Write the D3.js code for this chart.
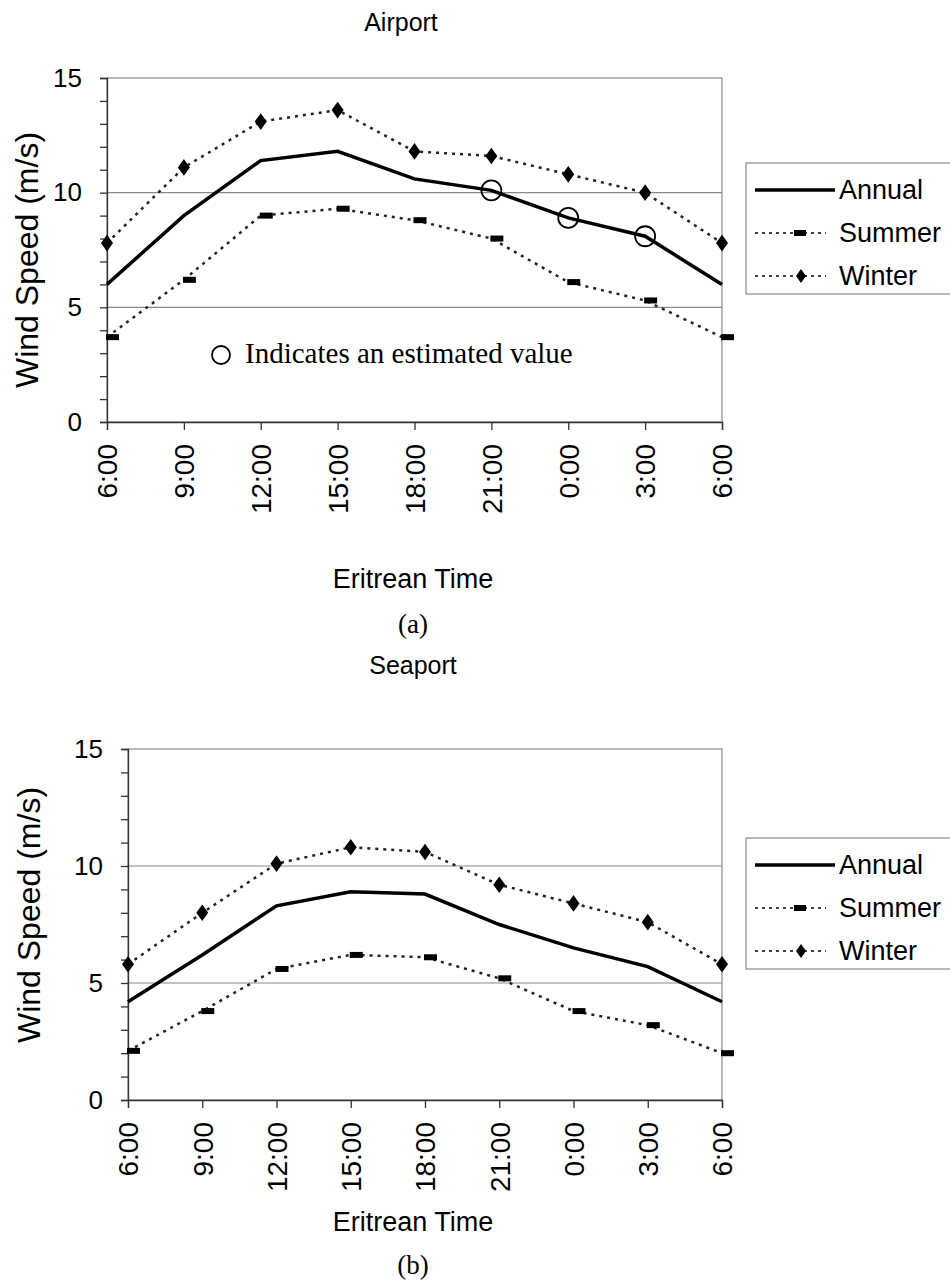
<!DOCTYPE html>
<html>
<head>
<meta charset="utf-8">
<script src="https://cdnjs.cloudflare.com/ajax/libs/d3/7.8.5/d3.min.js"></script>
<style>
  body { margin: 0; background: #fff; }
  text { font-family: Arial, "Liberation Sans", sans-serif; fill: #000; }
  .serif { font-family: "Times New Roman", "Liberation Serif", serif; }
</style>
</head>
<body>
<svg id="chart" width="950" height="1283"></svg>
<script>
// hours along the x axis (day runs 6:00 -> 6:00 next day)
const times = ["6:00", "9:00", "12:00", "15:00", "18:00", "21:00", "0:00", "3:00", "6:00"];
const yTicks = [0, 5, 10, 15];
const seriesNames = ["Annual", "Summer", "Winter"];

// (a) Airport, m/s
const airportAnnual = [6.0, 9.0, 11.4, 11.8, 10.6, 10.1, 8.9, 8.1, 6.0];
const airportSummer = [3.7, 6.2, 9.0, 9.3, 8.8, 8.0, 6.1, 5.3, 3.7];
const airportWinter = [7.8, 11.1, 13.1, 13.6, 11.8, 11.6, 10.8, 10.0, 7.8];
const airportEstimated = [5, 6, 7]; // indexes of the estimated annual values

// (b) Seaport, m/s
const seaportAnnual = [4.2, 6.2, 8.3, 8.9, 8.8, 7.5, 6.5, 5.7, 4.2];
const seaportSummer = [2.1, 3.8, 5.6, 6.2, 6.1, 5.2, 3.8, 3.2, 2.0];
const seaportWinter = [5.8, 8.0, 10.1, 10.8, 10.6, 9.2, 8.4, 7.6, 5.8];

const svg = d3.select('#chart');

function drawChart(cfg) {
  const x = d3.scalePoint()
    .domain(d3.range(times.length))
    .range([cfg.left, cfg.right]);
  const y = d3.scaleLinear()
    .domain([0, 15])
    .range([cfg.bottom, cfg.top]);

  const g = svg.append('g');

  // title
  g.append('text')
    .attr('x', cfg.titleX).attr('y', cfg.titleY)
    .attr('text-anchor', 'middle')
    .style('font-size', '25px')
    .text(cfg.title);

  // plot frame
  g.append('rect')
    .attr('x', cfg.left).attr('y', cfg.top)
    .attr('width', cfg.right - cfg.left).attr('height', cfg.bottom - cfg.top)
    .attr('fill', 'none').attr('stroke', '#8a8a8a').attr('stroke-width', 1.2);

  // gridlines
  g.selectAll('.grid')
    .data(yTicks.filter(d => d > 0 && d < 15))
  .enter().append('line')
    .attr('x1', cfg.left).attr('x2', cfg.right)
    .attr('y1', d => y(d)).attr('y2', d => y(d))
    .attr('stroke', '#8a8a8a').attr('stroke-width', 1.2);

  // y axis, minor ticks every 1 m/s
  const yAxis = d3.axisLeft(y)
    .tickValues(d3.range(0, 16))
    .tickSize(7)
    .tickPadding(18)
    .tickFormat(d => yTicks.includes(d) ? d : '');
  const ya = g.append('g')
    .attr('transform', 'translate(' + cfg.left + ',0)')
    .call(yAxis);
  ya.selectAll('text').style('font-size', '26px').attr('fill', '#000');
  ya.selectAll('line, path').attr('stroke', '#333').attr('stroke-width', 1.3);

  // x axis
  const xAxis = d3.axisBottom(x)
    .tickSize(8)
    .tickFormat(i => times[i]);
  const xa = g.append('g')
    .attr('transform', 'translate(0,' + cfg.bottom + ')')
    .call(xAxis);
  xa.selectAll('line, path').attr('stroke', '#333').attr('stroke-width', 1.3);
  xa.selectAll('text')
    .style('font-size', '28px')
    .attr('fill', '#000')
    .attr('transform', 'rotate(-90)')
    .attr('text-anchor', 'end')
    .attr('x', -22).attr('y', 0).attr('dy', '0.35em');

  // axis titles
  g.append('text')
    .attr('transform', 'translate(' + cfg.yLabelX + ',' + cfg.yLabelY + ') rotate(-90)')
    .attr('text-anchor', 'middle')
    .attr('dy', '0.35em')
    .style('font-size', '32px')
    .text('Wind Speed (m/s)');

  g.append('text')
    .attr('x', 413).attr('y', cfg.xLabelY)
    .attr('text-anchor', 'middle')
    .style('font-size', '27px')
    .text('Eritrean Time');

  g.append('text')
    .attr('class', 'serif')
    .attr('x', 413).attr('y', cfg.captionY)
    .attr('text-anchor', 'middle')
    .style('font-size', '27px')
    .text(cfg.caption);

  // lines
  const line = d3.line()
    .x((d, i) => x(i))
    .y(d => y(d));

  g.append('path').datum(cfg.summer)
    .attr('d', line).attr('fill', 'none')
    .attr('stroke', '#222').attr('stroke-width', 2.5).attr('stroke-dasharray', '3,5');
  g.append('path').datum(cfg.winter)
    .attr('d', line).attr('fill', 'none')
    .attr('stroke', '#222').attr('stroke-width', 2.5).attr('stroke-dasharray', '3,5');
  g.append('path').datum(cfg.annual)
    .attr('d', line).attr('fill', 'none')
    .attr('stroke', '#000').attr('stroke-width', 3.5);

  // summer markers (dash)
  g.selectAll('.sm')
    .data(cfg.summer)
  .enter().append('rect')
    .attr('x', (d, i) => x(i) - 1)
    .attr('y', d => y(d) - 3)
    .attr('width', 13).attr('height', 6)
    .attr('fill', '#000');

  // winter markers (diamond)
  g.selectAll('.wm')
    .data(cfg.winter)
  .enter().append('path')
    .attr('d', d3.symbol(d3.symbolDiamond, 80))
    .attr('transform', (d, i) => 'translate(' + x(i) + ',' + y(d) + ') scale(1.25,1)')
    .attr('fill', '#000');

  // estimated values
  if (cfg.estimated) {
    g.selectAll('.est')
      .data(cfg.estimated)
    .enter().append('circle')
      .attr('cx', i => x(i))
      .attr('cy', i => y(cfg.annual[i]))
      .attr('r', 10)
      .attr('fill', 'none').attr('stroke', '#000').attr('stroke-width', 1.8);

    g.append('circle')
      .attr('cx', 221).attr('cy', 355).attr('r', 9)
      .attr('fill', 'none').attr('stroke', '#000').attr('stroke-width', 1.8);
    g.append('text')
      .attr('class', 'serif')
      .attr('x', 245).attr('y', 363)
      .style('font-size', '29px')
      .text('Indicates an estimated value');
  }

  // legend
  const lg = g.append('g');
  lg.append('rect')
    .attr('x', 746).attr('y', cfg.legendTop)
    .attr('width', 230).attr('height', 131)
    .attr('fill', '#fff').attr('stroke', '#8a8a8a').attr('stroke-width', 1.2);

  const item = lg.selectAll('.item')
    .data(seriesNames)
  .enter().append('g')
    .attr('transform', (d, i) => 'translate(0,' + (cfg.legendTop + 27 + i * 43) + ')');

  item.append('line')
    .attr('x1', 755).attr('x2', d => d === 'Annual' ? 835 : 826)
    .attr('y1', 0).attr('y2', 0)
    .attr('stroke', '#000')
    .attr('stroke-width', d => d === 'Annual' ? 3.5 : 1.5)
    .attr('stroke-dasharray', d => d === 'Annual' ? null : '3,4');

  item.filter(d => d === 'Summer').append('rect')
    .attr('x', 794).attr('y', -3).attr('width', 12).attr('height', 6).attr('fill', '#000');
  item.filter(d => d === 'Winter').append('path')
    .attr('d', d3.symbol(d3.symbolDiamond, 55))
    .attr('transform', 'translate(801,0) scale(1.25,1)')
    .attr('fill', '#000');

  item.append('text')
    .attr('x', 839).attr('y', 0).attr('dy', '0.35em')
    .style('font-size', '27px')
    .text(d => d);
}

drawChart({
  title: 'Airport', titleX: 401, titleY: 31,
  left: 107, right: 722, top: 78, bottom: 422,
  yLabelX: 27, yLabelY: 260, xLabelY: 588, caption: '(a)', captionY: 633,
  legendTop: 163,
  annual: airportAnnual, summer: airportSummer, winter: airportWinter,
  estimated: airportEstimated
});

drawChart({
  title: 'Seaport', titleX: 413, titleY: 674,
  left: 128, right: 722, top: 749, bottom: 1100,
  yLabelX: 29, yLabelY: 915, xLabelY: 1231, caption: '(b)', captionY: 1274,
  legendTop: 838,
  annual: seaportAnnual, summer: seaportSummer, winter: seaportWinter,
  estimated: null
});
</script>
</body>
</html>
